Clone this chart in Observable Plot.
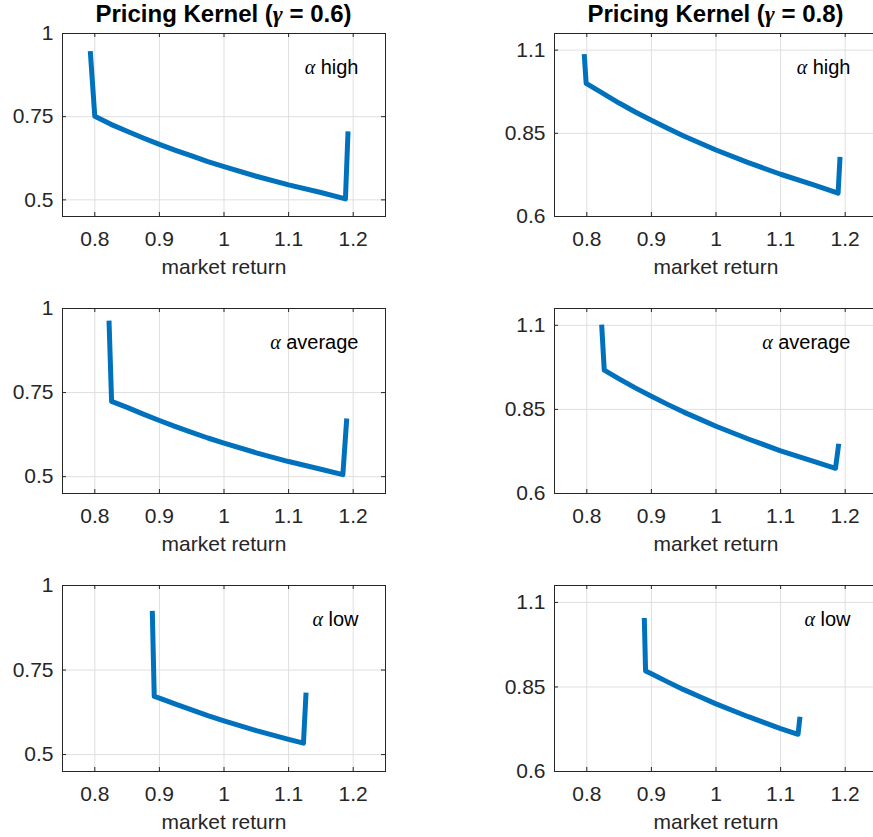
<!DOCTYPE html>
<html>
<head>
<meta charset="utf-8">
<script src="https://cdn.jsdelivr.net/npm/d3@7"></script>
<script src="https://cdn.jsdelivr.net/npm/@observablehq/plot@0.6"></script>
<style>
  html, body { margin: 0; padding: 0; background: #fff; }
  #wrap { position: relative; width: 873px; height: 837px; overflow: hidden; background: #fff;
          font-family: "Liberation Sans", Arial, sans-serif; }
  .panel { position: absolute; overflow: visible; }
  .panel svg { max-width: none !important; }
  .title { position: absolute; text-align: center; font-weight: bold; font-size: 24px; line-height: 24px;
           color: #000; white-space: nowrap; }
  .title .g { font-family: "Liberation Serif", "DejaVu Serif", serif; font-style: italic; font-weight: bold; }
</style>
</head>
<body>
<div id="wrap"></div>
<script>
// ---------- data ----------
const gammaValues = ["0.6", "0.8"];
const alphaNames = ["high", "average", "low"];
const xLabel = "market return";
const xTicks = [0.8, 0.9, 1, 1.1, 1.2];
const yTicksG06 = [0.5, 0.75, 1];
const yTicksG08 = [0.6, 0.85, 1.1];

// gamma = 0.6, alpha high
const g06HighX = [0.793, 0.800, 0.825, 0.85, 0.875, 0.90, 0.925, 0.95, 0.975, 1.00, 1.05, 1.10, 1.15, 1.188, 1.192];
const g06HighY = [0.947, 0.751, 0.727, 0.706, 0.686, 0.667, 0.649, 0.632, 0.615, 0.600, 0.571, 0.545, 0.522, 0.503, 0.706];
// gamma = 0.8, alpha high
const g08HighX = [0.796, 0.799, 0.825, 0.85, 0.875, 0.90, 0.925, 0.95, 0.975, 1.00, 1.05, 1.10, 1.15, 1.189, 1.192];
const g08HighY = [1.088, 1.000, 0.970, 0.941, 0.914, 0.889, 0.865, 0.842, 0.821, 0.800, 0.762, 0.727, 0.696, 0.670, 0.779];
// gamma = 0.6, alpha average
const g06AvgX = [0.822, 0.826, 0.85, 0.875, 0.90, 0.925, 0.95, 0.975, 1.00, 1.05, 1.10, 1.15, 1.184, 1.190];
const g06AvgY = [0.964, 0.724, 0.706, 0.686, 0.667, 0.649, 0.632, 0.615, 0.600, 0.571, 0.545, 0.522, 0.506, 0.673];
// gamma = 0.8, alpha average
const g08AvgX = [0.823, 0.827, 0.85, 0.875, 0.90, 0.925, 0.95, 0.975, 1.00, 1.05, 1.10, 1.15, 1.185, 1.190];
const g08AvgY = [1.102, 0.967, 0.941, 0.914, 0.889, 0.865, 0.842, 0.821, 0.800, 0.762, 0.727, 0.696, 0.675, 0.748];
// gamma = 0.6, alpha low
const g06LowX = [0.889, 0.892, 0.90, 0.925, 0.95, 0.975, 1.00, 1.05, 1.10, 1.123, 1.127];
const g06LowY = [0.925, 0.672, 0.667, 0.649, 0.632, 0.615, 0.600, 0.571, 0.545, 0.534, 0.683];
// gamma = 0.8, alpha low
const g08LowX = [0.889, 0.891, 0.90, 0.925, 0.95, 0.975, 1.00, 1.05, 1.10, 1.127, 1.130];
const g08LowY = [1.054, 0.897, 0.889, 0.865, 0.842, 0.821, 0.800, 0.762, 0.727, 0.710, 0.762];

// ---------- layout / style ----------
const L = {
  colLeft: [0, 492], frameW: 323, mLeft: 62, mRight: 10, mTop: 5, mBottom: 75,
  rowTop: [33, 308, 585], rowH: [183, 185, 186],
  xDomain: [0.75, 1.25], yDomains: [[0.45, 1], [0.6, 1.15]]
};
const ink = "#262626", gridC = "#dfdfdf", lineC = "#0072BD";
const FONT = '"Liberation Sans", Arial, sans-serif';

const panels = [
  [[g06HighX, g06HighY], [g08HighX, g08HighY]],
  [[g06AvgX, g06AvgY], [g08AvgX, g08AvgY]],
  [[g06LowX, g06LowY], [g08LowX, g08LowY]]
];
const yTicksByCol = [yTicksG06, yTicksG08];

const wrap = document.getElementById("wrap");

// titles
gammaValues.forEach((g, c) => {
  const t = document.createElement("div");
  t.className = "title";
  t.style.left = (L.colLeft[c] + L.mLeft) + "px";
  t.style.width = L.frameW + "px";
  t.style.top = "2px";
  t.innerHTML = `Pricing Kernel (<span class="g">γ</span> = ${g})`;
  wrap.appendChild(t);
});

for (let r = 0; r < 3; r++) {
  for (let c = 0; c < 2; c++) {
    const [xs, ys] = panels[r][c];
    const data = xs.map((x, i) => ({x, y: ys[i]}));
    const fh = L.rowH[r];
    const fw = L.frameW;
    const yt = yTicksByCol[c];
    const W = L.mLeft + fw + L.mRight;
    const H = L.mTop + fh + L.mBottom;
    const chart = Plot.plot({
      width: W,
      height: H,
      marginLeft: L.mLeft, marginRight: L.mRight, marginTop: L.mTop, marginBottom: L.mBottom,
      style: {fontFamily: FONT, fontSize: "21px", color: ink, background: "transparent", overflow: "visible", maxWidth: "none"},
      x: {domain: L.xDomain, axis: null},
      y: {domain: L.yDomains[c], axis: null},
      marks: [
        Plot.gridX(xTicks, {stroke: gridC, strokeOpacity: 1, strokeWidth: 1}),
        Plot.gridY(yt, {stroke: gridC, strokeOpacity: 1, strokeWidth: 1}),
        Plot.line(data, {x: "x", y: "y", stroke: lineC, strokeWidth: 5, strokeLinejoin: "round", strokeLinecap: "butt"}),
        Plot.frame({stroke: ink, strokeWidth: 1}),
        Plot.tickX(xTicks, {x: d => d, stroke: ink, insetTop: fh - 4}),
        Plot.tickX(xTicks, {x: d => d, stroke: ink, insetBottom: fh - 4}),
        Plot.tickY(yt, {y: d => d, stroke: ink, insetRight: fw - 4}),
        Plot.tickY(yt, {y: d => d, stroke: ink, insetLeft: fw - 4}),
        Plot.axisX({ticks: xTicks, tickSize: 0, tickPadding: 15, fontSize: 21, label: null, tickFormat: d => String(d)}),
        Plot.axisY({ticks: yt, tickSize: 0, tickPadding: 9, fontSize: 21, label: null, tickFormat: d => String(d)}),
        Plot.text([xLabel], {text: d => d, frameAnchor: "bottom", lineAnchor: "middle", dy: 51, fontSize: 21, fill: ink}),
        Plot.text(["α " + alphaNames[r]], {text: d => d, frameAnchor: "top-right", lineAnchor: "middle", textAnchor: "end", dx: -27, dy: 33.6, fontSize: 20, fill: "#000"})
      ]
    });
    // render α as a TeX-like italic serif glyph
    chart.querySelectorAll("text").forEach(t => {
      const s = t.textContent;
      if (s.startsWith("α ")) {
        while (t.firstChild) t.removeChild(t.firstChild);
        const a = document.createElementNS("http://www.w3.org/2000/svg", "tspan");
        a.setAttribute("font-family", '"Liberation Serif", "DejaVu Serif", serif');
        a.setAttribute("font-style", "italic");
        a.textContent = "α";
        const b = document.createElementNS("http://www.w3.org/2000/svg", "tspan");
        b.textContent = s.slice(1);
        t.appendChild(a); t.appendChild(b);
      }
    });
    const div = document.createElement("div");
    div.className = "panel";
    div.style.left = L.colLeft[c] + "px";
    div.style.top = (L.rowTop[r] - L.mTop) + "px";
    div.style.width = W + "px";
    div.style.height = H + "px";
    div.appendChild(chart);
    wrap.appendChild(div);
  }
}
</script>
</body>
</html>
